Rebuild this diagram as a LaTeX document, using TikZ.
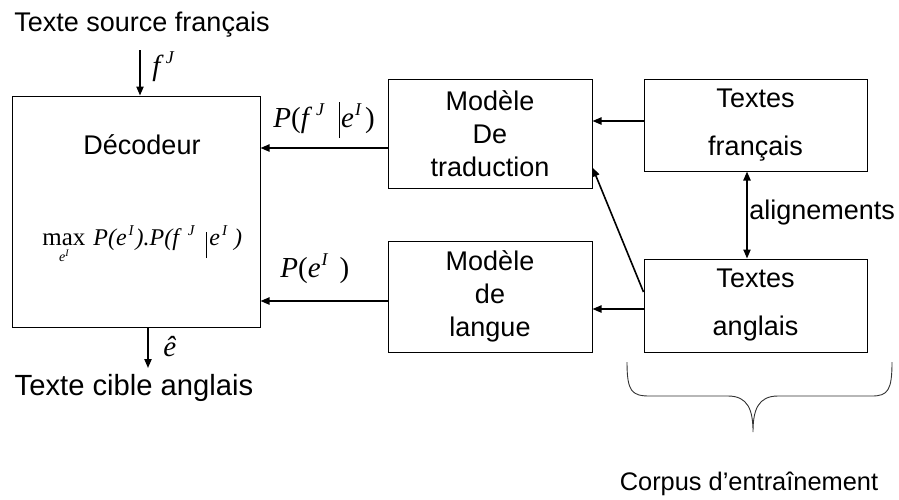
\documentclass[tikz,border=0pt]{standalone}
\usepackage{fontspec}
\setmainfont{Liberation Sans}
\newfontfamily\tms{Liberation Serif}
\usetikzlibrary{arrows.meta}
% \mysup{raise}{size}{letter}
\newcommand{\mysup}[3]{\raisebox{#1}{\fontsize{#2}{#2}\selectfont\itshape #3}}
\newcommand{\tallbar}[2]{\rule[-#1]{0.5pt}{#2}}
\begin{document}
\begin{tikzpicture}[x=0.5pt, y=-0.5pt,
  box/.style={draw, line width=0.5pt, inner sep=0pt, align=center, font=\fontsize{13.5}{16.5}\selectfont},
  arr/.style={line width=0.8pt, -{Triangle[length=4.5pt,width=3.6pt]}},
  dbl/.style={line width=0.8pt, {Triangle[length=4.5pt,width=3.6pt]}-{Triangle[length=4.5pt,width=3.6pt]}},
  lbl/.style={inner sep=0pt, font=\fontsize{13.5}{16}\selectfont},
  mth/.style={inner sep=0pt, anchor=base west, font=\tms\fontsize{14.5}{16}\selectfont}]
\useasboundingbox (0,0) rectangle (899,499);

% boxes
\node[box, minimum width=124pt, minimum height=115.5pt] (dec) at (136,211.5) {};
\node[lbl] (dectxt) at (142,145) {Décodeur};
\node[inner sep=0pt, anchor=base west, font=\tms\fontsize{12}{14}\selectfont] (form) at (42,245)
  {\begin{tabular}[t]{@{}c@{}}\fontsize{12.5}{13}\selectfont max\\[-6pt]{\fontsize{7}{7}\selectfont\itshape e\raisebox{2.5pt}{\fontsize{5}{5}\selectfont I}}\end{tabular}%
   \hspace{4pt}\textit{P(e}\hspace{1pt}\mysup{5pt}{7.5}{I}\hspace{1pt}\textit{).P(f}\hspace{3pt}\mysup{5pt}{7.5}{J}\hspace{6pt}\tallbar{6.5pt}{13pt}\hspace{1pt}\textit{e}\hspace{1pt}\mysup{5pt}{7.5}{I}\hspace{3.5pt}\textit{)}};

\node[box, minimum width=102pt, minimum height=54.5pt] (mt) at (490,133.5) {Modèle\\De\\traduction};
\node[box, minimum width=102pt, minimum height=55.5pt] (ml) at (490,296.5) {Modèle\\de\\langue};
\node[box, minimum width=111.5pt, minimum height=46pt, font=\fontsize{13.5}{24}\selectfont] (tf) at (755.5,125) {Textes\\français};
\node[box, minimum width=111.5pt, minimum height=46.5pt, font=\fontsize{13.5}{24}\selectfont] (ta) at (755.5,305.5) {Textes\\anglais};

% free texts
\node[lbl] (src) at (142,25) {Texte source français};
\node[lbl, font=\fontsize{14.6}{17}\selectfont] (tgt) at (134,388) {Texte cible anglais};
\node[lbl, font=\fontsize{12.7}{15}\selectfont] (corp) at (749,484) {Corpus d’entraînement};
\node[lbl, anchor=west] (align) at (749,213) {alignements};

% math labels
\node[mth] (fj) at (152,75) {\textit{f}\hspace{1pt}\mysup{6pt}{9}{J}};
\node[mth] (eh) at (163,356) {\textit{ê}};
\node[mth] (pfe) at (273,127) {\textit{P}(\textit{f}\hspace{2pt}\mysup{6pt}{9}{J}\hspace{7.5pt}\tallbar{5.5pt}{18pt}\hspace{0.5pt}\textit{e}\hspace{0.5pt}\mysup{6pt}{9}{I}\hspace{2pt})};
\node[mth] (pe) at (280,277) {\textit{P}(\textit{e}\hspace{0.5pt}\mysup{6pt}{9}{I}\hspace{6pt})};

% connectors
\coordinate (fs) at (140,50);
\draw[arr] (fs) -- (fs |- dec.north);
\coordinate (ee) at (148,368);
\draw[arr] (ee |- dec.south) -- (ee);
\coordinate (p1) at ([yshift=-7.25pt]mt.west);
\draw[arr] (p1) -- (p1 -| dec.east);
\coordinate (p2) at ([yshift=-2.25pt]ml.west);
\draw[arr] (p2) -- (p2 -| dec.east);
\coordinate (p3) at ([yshift=2pt]tf.west);
\draw[arr] (p3) -- (p3 -| mt.east);
\coordinate (p4) at ([yshift=-1.75pt]ta.west);
\draw[arr] (p4) -- (p4 -| ml.east);
\draw[arr] ([yshift=6.75pt]ta.west) -- ([yshift=10.5pt]mt.south east);
\coordinate (p5) at ([xshift=-4.25pt]tf.south);
\draw[dbl] (p5) -- (p5 |- ta.north);

% brace
\draw[line width=0.45pt, black!80] (627,362) .. controls (627,392) and (632,396) .. (650,396)
  -- (728,396) .. controls (748,396) and (753,410) .. (753,432)
  .. controls (753,410) and (758,396) .. (778,396)
  -- (872,396) .. controls (888,396) and (892,390) .. (892,362);
\end{tikzpicture}
\end{document}
